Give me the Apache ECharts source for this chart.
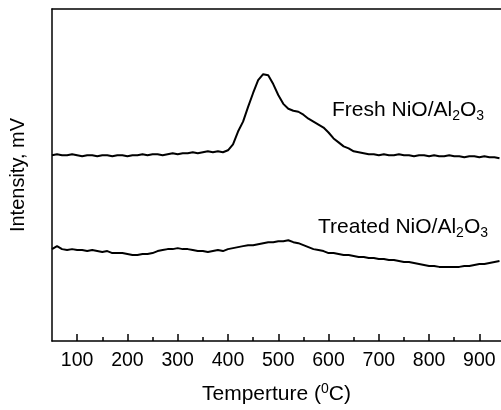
<!DOCTYPE html>
<html>
<head>
<meta charset="utf-8">
<script src="https://cdn.jsdelivr.net/npm/echarts@6/dist/echarts.min.js"></script>
<style>
	html, body { margin: 0; padding: 0; background: #fff; }
	#chart { width: 501px; height: 410px; }
</style>
</head>
<body>
<div id="chart"></div>
<script>
// 温度 (°C)
var temps = [50, 60, 70, 80, 90, 100, 110, 120, 130, 140,
	150, 160, 170, 180, 190, 200, 210, 220, 230, 240,
	250, 260, 270, 280, 290, 300, 310, 320, 330, 340,
	350, 360, 370, 380, 390, 400, 410, 420, 430, 440,
	450, 460, 470, 480, 490, 500, 510, 520, 530, 540,
	550, 560, 570, 580, 590, 600, 610, 620, 630, 640,
	650, 660, 670, 680, 690, 700, 710, 720, 730, 740,
	750, 760, 770, 780, 790, 800, 810, 820, 830, 840,
	850, 860, 870, 880, 890, 900, 910, 920, 930, 940];
// Fresh NiO/Al2O3 信号 (任意单位)
var freshVals = [188, 189, 188, 188, 189, 188, 187, 188, 188, 187,
	188, 188, 187, 188, 188, 187, 188, 188, 189, 188,
	189, 189, 188, 189, 190, 189, 190, 190, 191, 190,
	191, 192, 191, 192, 191, 193, 199, 212, 222, 237,
	251, 264, 270, 269, 260, 249, 240, 235, 233, 232,
	229, 225, 222, 219, 216, 211, 205, 201, 197, 195,
	192, 191, 190, 189, 189, 188, 189, 188, 188, 189,
	188, 188, 187, 188, 188, 187, 188, 187, 187, 188,
	187, 187, 186, 187, 187, 186, 187, 186, 186, 185];
// Treated NiO/Al2O3 信号
var treatedVals = [93, 96, 93, 92, 93, 92, 92, 91, 92, 91,
	90, 91, 89, 89, 89, 88, 87, 87, 88, 88,
	89, 91, 92, 93, 93, 94, 93, 93, 92, 91,
	91, 90, 91, 92, 91, 93, 94, 95, 96, 97,
	97, 98, 99, 100, 100, 101, 101, 102, 100, 99,
	97, 95, 93, 92, 91, 89, 89, 88, 87, 87,
	86, 85, 85, 84, 84, 83, 83, 82, 82, 81,
	80, 80, 79, 78, 77, 76, 76, 75, 75, 75,
	75, 75, 76, 76, 77, 78, 78, 79, 80, 81];
// 刻度
var majorTicks = [100, 200, 300, 400, 500, 600, 700, 800, 900];
var minorTicks = [150, 250, 350, 450, 550, 650, 750, 850];

function pairs(xs, ys) {
	var out = [];
	for (var i = 0; i < xs.length; i++) {
		out.push([xs[i], ys[i]]);
	}
	return out;
}

var FONT = 'Liberation Sans, Arial, sans-serif';
var myChart = echarts.init(document.getElementById('chart'), null, { renderer: 'canvas' });

var option = {
	backgroundColor: '#fff',
	animation: false,
	grid: { left: 49, top: 9, right: 0, bottom: 65 },
	xAxis: [{
		type: 'value', min: 50, max: 943, position: 'bottom',
		name: 'Temperture ({sup|0}C)',
		nameLocation: 'middle', nameGap: 41,
		nameTextStyle: {
			color: '#000', fontSize: 21, fontFamily: FONT,
			rich: { sup: { fontSize: 14, fontFamily: FONT, color: '#000', padding: [0, 0, 11, 0] } }
		},
		axisLine: { show: true, lineStyle: { color: '#000', width: 1.5 } },
		axisTick: { show: true, inside: true, length: 7, customValues: majorTicks, lineStyle: { color: '#000', width: 1.5 } },
		axisLabel: { show: true, customValues: majorTicks, color: '#000', fontSize: 19.5, fontFamily: FONT, margin: 10 },
		splitLine: { show: false }
	}, {
		// 次刻度
		type: 'value', min: 50, max: 943, position: 'bottom',
		axisLine: { show: false },
		axisTick: { show: true, inside: true, length: 4, customValues: minorTicks, lineStyle: { color: '#000', width: 1.5 } },
		axisLabel: { show: false },
		splitLine: { show: false }
	}, {
		// 上边框
		type: 'value', min: 50, max: 943, position: 'top',
		axisLine: { show: true, lineStyle: { color: '#000', width: 1.5 } },
		axisTick: { show: false },
		axisLabel: { show: false },
		splitLine: { show: false }
	}],
	yAxis: {
		type: 'value', min: 0, max: 336,
		name: 'Intensity, mV',
		nameLocation: 'middle', nameGap: 24, nameRotate: 90,
		nameTextStyle: { color: '#000', fontSize: 20, fontFamily: FONT },
		axisLine: { show: true, lineStyle: { color: '#000', width: 1.5 } },
		axisTick: { show: false },
		axisLabel: { show: false },
		splitLine: { show: false }
	},
	graphic: [{
		type: 'text', left: 332, top: 100,
		style: {
			text: 'Fresh NiO/Al{sub|2}O{sub|3}',
			fill: '#000', font: '21px ' + FONT,
			rich: { sub: { fontSize: 14, fontFamily: FONT, fill: '#000', padding: [11, 0, 0, 0] } }
		}
	}, {
		type: 'text', left: 318, top: 217,
		style: {
			text: 'Treated NiO/Al{sub|2}O{sub|3}',
			fill: '#000', font: '21px ' + FONT,
			rich: { sub: { fontSize: 14, fontFamily: FONT, fill: '#000', padding: [11, 0, 0, 0] } }
		}
	}],
	series: [{
		name: 'Fresh', type: 'line', showSymbol: false, smooth: false,
		data: pairs(temps, freshVals),
		lineStyle: { color: '#000', width: 2 }
	}, {
		name: 'Treated', type: 'line', showSymbol: false, smooth: false,
		data: pairs(temps, treatedVals),
		lineStyle: { color: '#000', width: 2 }
	}]
};
myChart.setOption(option);
</script>
</body>
</html>
